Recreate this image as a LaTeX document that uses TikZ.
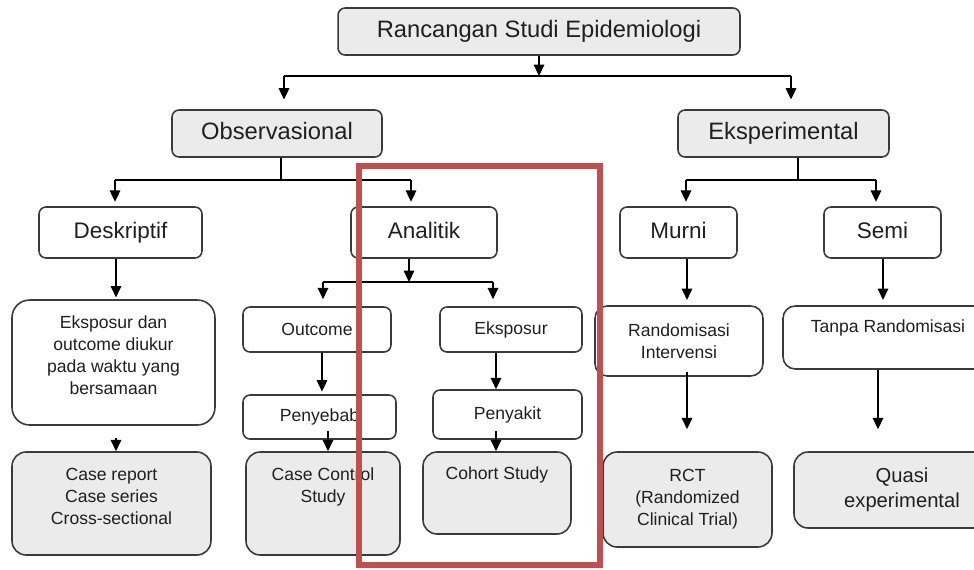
\documentclass[tikz,border=0pt]{standalone}
\usepackage{fontspec}
\setmainfont{Liberation Sans}
\usepackage{tikz}
\usetikzlibrary{arrows.meta, positioning, calc}
\definecolor{boxgray}{HTML}{EBEBEB}
\definecolor{edgegray}{HTML}{3A3A3A}
\definecolor{framered}{HTML}{C0504D}

\begin{document}
\begin{tikzpicture}[x=0.02cm, y=-0.02cm,
  box/.style={draw=edgegray, line width=0.9pt, rounded corners=4pt, align=center, inner sep=2pt, text=black!88},
  headbox/.style={box, fill=boxgray, text height=10pt, text depth=3pt, font=\fontsize{13.5}{16}\selectfont},
  typebox/.style={box, text height=9.5pt, text depth=3pt, font=\fontsize{12.8}{15}\selectfont},
  stepbox/.style={box, font=\fontsize{10}{12.5}\selectfont},
  studybox/.style={box, fill=boxgray, rounded corners=8pt, font=\fontsize{10}{12.5}\selectfont},
  arr/.style={-{Triangle[width=6pt,length=6.5pt]}, line width=0.9pt, black},
  bus/.style={line width=0.9pt, black}]
  \useasboundingbox (0,0) rectangle (974,569);

  % Title and the two main branches
  \node[headbox, minimum width=8.04cm, minimum height=0.94cm] (rancangan) at (539,31.5) {Rancangan Studi Epidemiologi};
  \node[headbox, minimum width=4.2cm, minimum height=0.94cm] (obs) at (277,133.5) {Observasional};
  \node[headbox, minimum width=4.22cm, minimum height=0.94cm] (eks) at (783.5,133.5) {Eksperimental};

  % Second level
  \node[typebox, minimum width=3.26cm, minimum height=1.02cm] (deskriptif) at (120.5,232.5) {Deskriptif};
  \node[typebox, minimum width=2.92cm, minimum height=1.02cm] (analitik) at (424,232.5) {Analitik};
  \node[typebox, minimum width=2.34cm, minimum height=1.02cm] (murni) at (678.5,232.5) {Murni};
  \node[typebox, minimum width=2.34cm, minimum height=1.02cm] (semi) at (882.5,232.5) {Semi};

  % Steps
  \node[stepbox, rounded corners=10pt, minimum width=4.06cm, minimum height=2.5cm, text depth=8pt] (sewaktu) at (113.5,362.5) {Eksposur dan\\outcome diukur\\pada waktu yang\\bersamaan};
  \node[stepbox, minimum width=2.96cm, minimum height=0.9cm] (outcome) at (317,329.5) {Outcome};
  \node[stepbox, minimum width=3.06cm, minimum height=0.88cm] (penyebab) at (319.5,417) {Penyebab};
  \node[stepbox, minimum width=2.84cm, minimum height=0.9cm] (eksposur) at (511,329.5) {Eksposur};
  \node[stepbox, minimum width=2.98cm, minimum height=0.98cm] (penyakit) at (507.5,414.5) {Penyakit};
  \node[stepbox, rounded corners=7pt, minimum width=3.36cm, minimum height=1.4cm] (randomisasi) at (679,341) {Randomisasi\\Intervensi};
  \node[stepbox, rounded corners=7pt, minimum width=4.2cm, minimum height=1.26cm, text depth=13pt] (tanpa) at (888,337.5) {Tanpa Randomisasi};

  % Study designs
  \node[studybox, minimum width=3.98cm, minimum height=2.06cm, text depth=8pt] (casereport) at (111.5,503.5) {Case report\\Case series\\Cross-sectional};
  \node[studybox, minimum width=3.08cm, minimum height=2.06cm, text depth=21pt] (casecontrol) at (323,503.5) {Case Control\\Study};
  \node[studybox, minimum width=2.96cm, minimum height=1.64cm, text depth=22.5pt] (cohort) at (497,493) {Cohort Study};
  \node[studybox, minimum width=3.38cm, minimum height=1.9cm] (rct) at (687.5,499.5) {RCT\\(Randomized\\Clinical Trial)};
  \node[studybox, minimum width=4.32cm, minimum height=1.52cm, font=\fontsize{11.5}{14}\selectfont] (quasi) at (902,490) {Quasi\\experimental};

  % Split below the title
  \coordinate (splitA) at (284,76);
  \coordinate (splitB) at (791,76);
  \draw[arr] (rancangan.south) -- (rancangan.south |- splitA);
  \draw[bus] (splitA) -- (splitB);
  \foreach \from/\to in {splitA/obs, splitB/eks}
    \draw[arr, shorten >=5.5pt] (\from) -- (\from |- \to.north);

  % Observasional -> Deskriptif, Analitik
  \coordinate (obsJ) at (281,180);
  \coordinate (obsL) at (115,180);
  \coordinate (obsR) at (411,180);
  \draw[bus] (obsJ |- obs.south) -- (obsJ);
  \draw[bus] (obsL) -- (obsR);
  \foreach \from/\to in {obsL/deskriptif, obsR/analitik}
    \draw[arr, shorten >=2.5pt] (\from) -- (\from |- \to.north);

  % Eksperimental -> Murni, Semi
  \coordinate (eksJ) at (798,180);
  \coordinate (eksL) at (686,180);
  \coordinate (eksR) at (876,180);
  \draw[bus] (eksJ |- eks.south) -- (eksJ);
  \draw[bus] (eksL) -- (eksR);
  \foreach \from/\to in {eksL/murni, eksR/semi}
    \draw[arr, shorten >=2.5pt] (\from) -- (\from |- \to.north);

  % Analitik -> Outcome, Eksposur
  \coordinate (anaJ) at (409,282);
  \coordinate (anaL) at (323,282);
  \coordinate (anaR) at (493,282);
  \draw[arr] (anaJ |- analitik.south) -- (anaJ);
  \draw[bus] (anaL) -- (anaR);
  \foreach \from/\to in {anaL/outcome, anaR/eksposur}
    \draw[arr, shorten >=4pt] (\from) -- (\from |- \to.north);

  % Columns of the steps
  \coordinate (colDes) at (116,0);
  \coordinate (colOut) at (322,0);
  \coordinate (colPen) at (328,0);
  \coordinate (colEks) at (496,0);
  \coordinate (colMur) at (687,0);
  \coordinate (colSem) at (878,0);

  \draw[arr, shorten >=1pt] (deskriptif.south -| colDes) -- (sewaktu.north -| colDes);
  \draw[arr, shorten <=7pt] (sewaktu.south -| colDes) -- (casereport.north -| colDes);
  \draw[arr, shorten >=1.5pt] (outcome.south -| colOut) -- (penyebab.north -| colOut);
  \draw[arr, shorten <=-5pt] (penyebab.south -| colPen) -- (casecontrol.north -| colPen);
  \draw[arr] (eksposur.south -| colEks) -- (penyakit.north -| colEks);
  \draw[arr, shorten <=-5pt] (penyakit.south -| colEks) -- (cohort.north -| colEks);
  \draw[arr, shorten >=3pt] (murni.south -| colMur) -- (randomisasi.north -| colMur);
  \draw[arr, shorten <=-3pt, shorten >=12.5pt] (randomisasi.south -| colMur) -- (rct.north -| colMur);
  \draw[arr, shorten >=3pt] (semi.south -| 883,0) -- (tanpa.north -| 883,0);
  \draw[arr, shorten >=12.5pt] (tanpa.south -| colSem) -- (quasi.north -| colSem);

  % Highlight frame
  \draw[framered, line width=3.4pt] (359,166) rectangle (600,565);
\end{tikzpicture}
\end{document}
